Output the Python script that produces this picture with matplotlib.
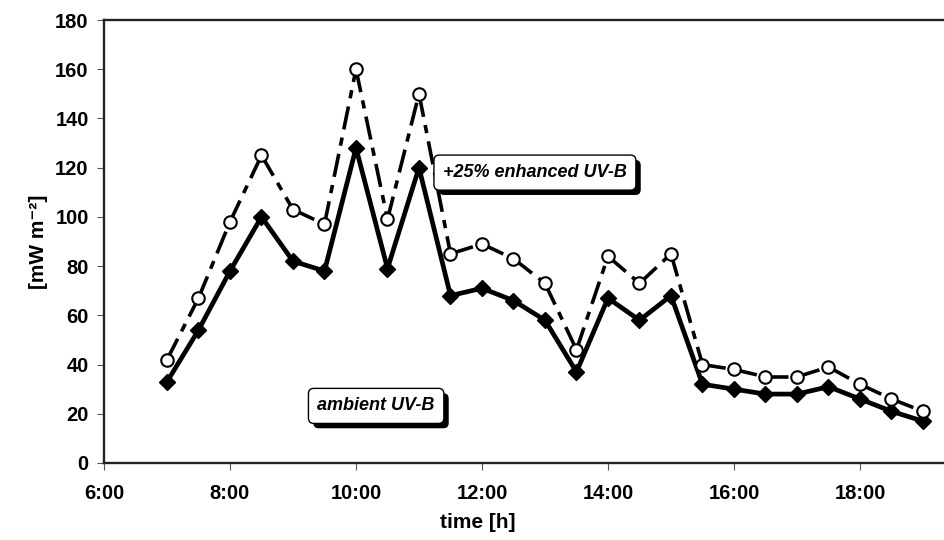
import matplotlib
matplotlib.use("Agg")
import matplotlib.pyplot as plt
import matplotlib.patheffects as pe

# half-hourly readings, 7:00 .. 19:00
hours = [7.0, 7.5, 8.0, 8.5, 9.0, 9.5, 10.0, 10.5, 11.0, 11.5, 12.0, 12.5, 13.0,
         13.5, 14.0, 14.5, 15.0, 15.5, 16.0, 16.5, 17.0, 17.5, 18.0, 18.5, 19.0]
ambient = [33, 54, 78, 100, 82, 78, 128, 79, 120, 68, 71, 66, 58,
           37, 67, 58, 68, 32, 30, 28, 28, 31, 26, 21, 17]
enhanced = [42, 67, 98, 125, 103, 97, 160, 99, 150, 85, 89, 83, 73,
            46, 84, 73, 85, 40, 38, 35, 35, 39, 32, 26, 21]

xticks = [6, 8, 10, 12, 14, 16, 18]
xticklabels = ["6:00", "8:00", "10:00", "12:00", "14:00", "16:00", "18:00"]
yticks = [0, 20, 40, 60, 80, 100, 120, 140, 160, 180]

plt.rcParams["font.family"] = ["Liberation Sans", "DejaVu Sans"]
plt.rcParams["font.weight"] = "bold"

fig = plt.figure(figsize=(9.45, 5.4), dpi=100)
W, H = 945, 540
ax = fig.add_axes([104 / W, (540 - 463) / H, 882 / W, 443 / H])

# enhanced series: dashed, pattern restarts at every point
for i in range(len(hours) - 1):
    ax.plot(hours[i:i + 2], enhanced[i:i + 2], color="black", lw=2.6,
            ls=(0, (6.5, 2.3, 2.3, 2.3)), solid_capstyle="butt", zorder=2)
ax.plot(hours, enhanced, ls="none", marker="o", ms=9, mfc="white",
        mec="black", mew=1.5, zorder=4)

ax.plot(hours, ambient, color="black", lw=3.4, marker="D", ms=8,
        mfc="black", mec="black", zorder=3)

ax.set_xlim(6, 20)
ax.set_ylim(0, 180)
ax.set_xticks(xticks)
ax.set_xticklabels(xticklabels)
ax.set_yticks(yticks)
ax.tick_params(axis="both", labelsize=14.5, length=5, width=0.8, color="#555555")
ax.tick_params(axis="y", pad=6)
ax.tick_params(axis="x", pad=10)

for side in ["left", "bottom", "top"]:
    ax.spines[side].set_linewidth(1.7)
    ax.spines[side].set_color("#222222")
ax.spines["right"].set_visible(False)

ax.set_ylabel("[mW m\u207b\u00b2]", fontsize=15, fontweight="bold")
ax.yaxis.set_label_coords(-0.064, 0.5)
ax.set_xlabel("time [h]", fontsize=15, fontweight="bold")
ax.xaxis.set_label_coords((478 - 104) / 882, -0.112)


def label_box(x, y, s):
    t = ax.text(x, y, s, ha="center", va="center", fontsize=13, style="italic",
                fontweight="bold", color="black", zorder=6,
                bbox=dict(boxstyle="round,pad=0.5,rounding_size=0.3",
                          fc="white", ec="black", lw=1))
    t.get_bbox_patch().set_path_effects([
        pe.SimplePatchShadow(offset=(3.5, -3.5), shadow_rgbFace="black", alpha=1),
        pe.Normal()])


label_box(12.84, 118, "+25% enhanced UV-B")
label_box(10.32, 23.2, "ambient UV-B")

fig.savefig("out.png", dpi=100)
